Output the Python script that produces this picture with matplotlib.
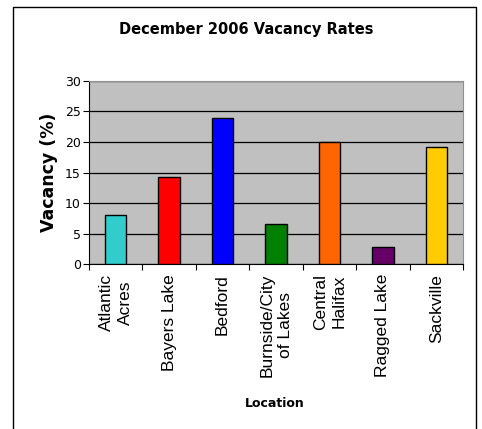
import matplotlib.pyplot as plt
from matplotlib.lines import Line2D

# Data
locations = ["Atlantic\nAcres", "Bayers Lake", "Bedford", "Burnside/City\nof Lakes",
             "Central\nHalifax", "Ragged Lake", "Sackville"]
vacancy = [8.0, 14.3, 24.0, 6.5, 20.0, 2.8, 19.2]
bar_colors = ["#33CCCC", "#FF0000", "#0000FF", "#008000", "#FF6600", "#660066", "#FFCC00"]
y_ticks = [0, 5, 10, 15, 20, 25, 30]

fig = plt.figure(figsize=(4.82, 4.29), dpi=100)
ax = fig.add_axes([0.1846, 0.3846, 0.776, 0.4266])

# Plot area
ax.set_facecolor("#C0C0C0")
x = list(range(len(locations)))
ax.bar(x, vacancy, width=0.4, color=bar_colors, edgecolor="black", linewidth=1, zorder=3)

ax.set_xlim(-0.5, len(locations) - 0.5)
ax.set_ylim(0, 30)
ax.set_yticks(y_ticks)
ax.yaxis.grid(True, color="black", linewidth=0.9, zorder=1)
ax.tick_params(axis="y", labelsize=9, length=4, width=0.8, pad=2, colors="black")

# category ticks sit between the bars
ax.set_xticks([i - 0.5 for i in range(len(locations) + 1)])
ax.set_xticklabels([])
ax.tick_params(axis="x", length=4, width=0.8, direction="out")
for i, name in enumerate(locations):
    ax.text(i, -1.6, name, rotation=90, ha="center", va="top", fontsize=12.5,
            family="Liberation Sans", linespacing=1.3)

for side in ["top", "right"]:
    ax.spines[side].set_color("#909090")
for side in ["left", "bottom"]:
    ax.spines[side].set_color("black")

ax.set_ylabel("Vacancy (%)", fontsize=12.5, fontweight="bold", labelpad=5)
fig.text(0.569, 0.06, "Location", ha="center", va="center", fontsize=9, fontweight="bold")
fig.text(0.51, 0.932, "December 2006 Vacancy Rates", ha="center", va="center",
         fontsize=10.5, fontweight="bold")

# outer chart frame (bottom edge is off the image)
fig.add_artist(Line2D([13 / 482, 13 / 482, 476 / 482, 476 / 482], [0, 1 - 7 / 429, 1 - 7 / 429, 0],
                      transform=fig.transFigure, color="black", linewidth=1))

fig.savefig("out.png", dpi=100)
